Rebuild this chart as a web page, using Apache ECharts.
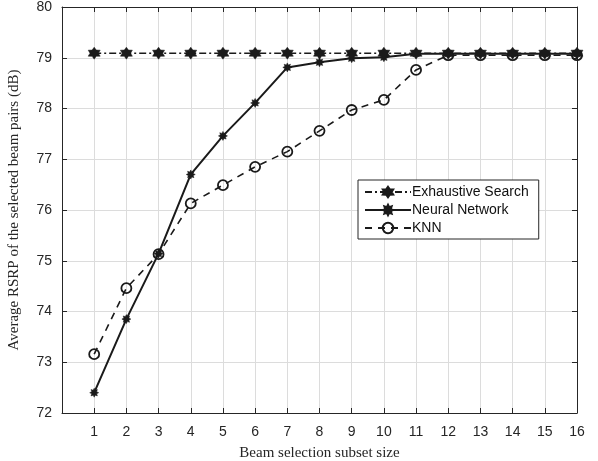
<!DOCTYPE html>
<html>
<head>
<meta charset="utf-8">
<script src="https://cdn.jsdelivr.net/npm/echarts@6/dist/echarts.min.js"></script>
<style>
  html, body { margin: 0; padding: 0; background: #fff; }
  #chart { width: 598px; height: 461px; }
</style>
</head>
<body>
<div id="chart"></div>
<script>
// subset sizes on the x axis
var subsetSizes = [1, 2, 3, 4, 5, 6, 7, 8, 9, 10, 11, 12, 13, 14, 15, 16];

// average RSRP (dB)
var exhaustive = [79.09, 79.09, 79.09, 79.09, 79.09, 79.09, 79.09, 79.09, 79.09, 79.09, 79.09, 79.09, 79.09, 79.09, 79.09, 79.09];
var neuralNet  = [72.40, 73.85, 75.14, 76.70, 77.46, 78.11, 78.81, 78.91, 78.99, 79.01, 79.08, 79.08, 79.08, 79.08, 79.08, 79.08];
var knn        = [73.16, 74.46, 75.13, 76.13, 76.49, 76.85, 77.15, 77.56, 77.97, 78.17, 78.76, 79.05, 79.05, 79.05, 79.05, 79.05];

var ink = '#262626'
var labelFont = 'Liberation Sans'
var titleFont = 'Liberation Serif'

// six pointed star like matlab's hexagram marker
function starPath(points, inner) {
  var d = ''
  for (var i = 0; i < points * 2; i++) {
    var r = i % 2 ? inner : 1
    var a = -Math.PI / 2 + i * Math.PI / points
    d += (i ? ' L ' : 'M ') + (r * Math.cos(a)).toFixed(3) + ' ' + (r * Math.sin(a)).toFixed(3)
  }
  return 'path://' + d + ' Z'
}

function pairs(ys) {
  return subsetSizes.map(function (x, i) { return [x, ys[i]] })
}

var chart = echarts.init(document.getElementById('chart'), null, { renderer: 'canvas' })

function frameAxis(extra) {
  return Object.assign({
    type: 'value',
    axisLine: { show: true, onZero: false, lineStyle: { color: ink, width: 1 } },
    axisTick: { show: true, inside: true, length: 5, lineStyle: { color: ink } },
    splitLine: { show: false },
    axisLabel: { show: false }
  }, extra)
}

chart.setOption({
  animation: false,
  backgroundColor: '#fff',
  grid: { left: 62, right: 21, top: 7, bottom: 48, outerBoundsMode: 'none', containLabel: false },
  xAxis: [
    frameAxis({
      min: 0, max: 16, interval: 1, position: 'bottom',
      name: 'Beam selection subset size',
      nameLocation: 'middle', nameGap: 33,
      nameTextStyle: { fontFamily: titleFont, fontSize: 15, color: ink },
      splitLine: { show: true, lineStyle: { color: '#dcdcdc', width: 1 } },
      axisLabel: {
        show: true, margin: 12, fontFamily: labelFont, fontSize: 14, color: ink,
        formatter: function (v) { return v === 0 ? '' : v }
      }
    }),
    frameAxis({ min: 0, max: 16, interval: 1, position: 'top' })
  ],
  yAxis: [
    frameAxis({
      min: 72, max: 80, interval: 1, position: 'left',
      name: 'Average RSRP of the selected beam pairs (dB)',
      nameLocation: 'middle', nameGap: 40,
      nameTextStyle: { fontFamily: titleFont, fontSize: 15, color: ink },
      splitLine: { show: true, lineStyle: { color: '#dcdcdc', width: 1 } },
      axisLabel: { show: true, margin: 10, fontFamily: labelFont, fontSize: 14, color: ink }
    }),
    frameAxis({ min: 72, max: 80, interval: 1, position: 'right' })
  ],
  legend: {
    orient: 'vertical',
    left: 358, top: 180,
    padding: [5, 10, 4, 6],
    itemGap: 4,
    itemWidth: 46, itemHeight: 13,
    backgroundColor: '#fff',
    borderColor: ink, borderWidth: 1,
    textStyle: { fontFamily: labelFont, fontSize: 14, color: '#111', padding: [0, 0, 0, -4] },
    data: ['Exhaustive Search', 'Neural Network', 'KNN']
  },
  series: [
    {
      name: 'KNN', type: 'line', z: 2,
      data: pairs(knn),
      symbol: 'circle', symbolSize: 10,
      lineStyle: { color: '#1a1a1a', width: 1.6, type: [7, 6] },
      itemStyle: { color: 'rgba(0,0,0,0)', borderColor: '#1a1a1a', borderWidth: 1.8 }
    },
    {
      name: 'Neural Network', type: 'line', z: 3,
      data: pairs(neuralNet),
      symbol: starPath(8, 0.6), symbolSize: 9,
      lineStyle: { color: '#1a1a1a', width: 2 },
      itemStyle: { color: '#1a1a1a', borderColor: '#1a1a1a', borderWidth: 0.5 }
    },
    {
      name: 'Exhaustive Search', type: 'line', z: 4,
      data: pairs(exhaustive),
      symbol: starPath(6, 0.6), symbolSize: 12,
      lineStyle: { color: '#1a1a1a', width: 1.6, type: [7, 3, 2, 3] },
      itemStyle: { color: '#1a1a1a', borderColor: '#1a1a1a', borderWidth: 0.5 }
    }
  ]
})
</script>
</body>
</html>
